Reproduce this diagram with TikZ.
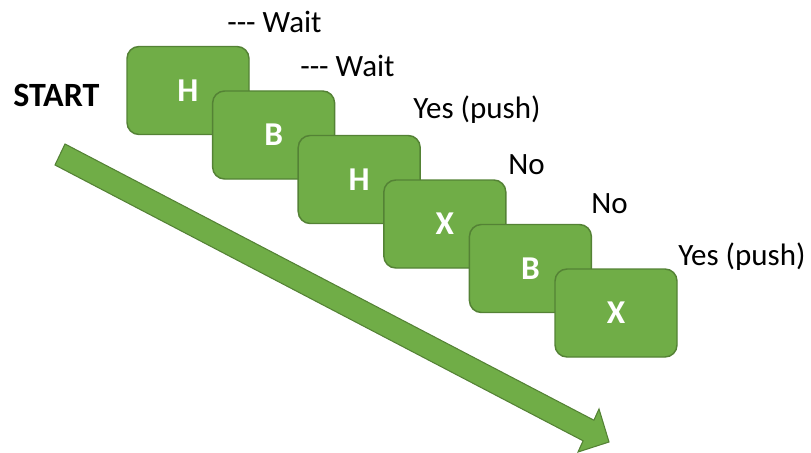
\documentclass[tikz,border=0pt]{standalone}
\usepackage{fontspec}
\setmainfont{Carlito}
\definecolor{tilegreen}{RGB}{112,173,71}
\definecolor{tileedge}{RGB}{84,130,53}
\newcommand{\tripledash}{-\kern0pt-\kern0pt-}
\begin{document}
\begin{tikzpicture}[x=0.75pt,y=-0.75pt,
  tile/.style={draw=tileedge, fill=tilegreen, line width=1.1pt,
    rounded corners=9pt, minimum width=91.5pt, minimum height=66pt,
    inner sep=0pt, text=white, font=\fontsize{25}{30}\selectfont\bfseries},
  lab/.style={anchor=base west, inner sep=0pt,
    font=\fontsize{23.25}{28}\selectfont},
  flow/.style={draw=tileedge, fill=tilegreen, line width=0.8pt}]
\useasboundingbox (0,0) rectangle (811,453);

% direction arrow
\coordinate (tailA) at (65,144);
\coordinate (tailB) at (55,165);
\coordinate (neckA) at (593.9,420.2);
\coordinate (neckB) at (583.1,440.8);
\coordinate (barbA) at (599,409);
\coordinate (barbB) at (578,452);
\coordinate (tip) at (609,442);
\draw[flow] (tailA) -- (neckA) -- (barbA) -- (tip) -- (barbB) -- (neckB) -- (tailB) -- cycle;

\node[anchor=base west, inner sep=0pt, font=\fontsize{25.5}{30}\selectfont\bfseries] (start) at (13,107) {START};

% stacked tiles, each drawn over the previous one
\node[tile] (t1) at (188.0,90.5) {H};
\node[tile] (t2) at (273.6,135.0) {B};
\node[tile] (t3) at (359.2,179.5) {H};
\node[tile] (t4) at (444.8,224.0) {X};
\node[tile] (t5) at (530.4,268.5) {B};
\node[tile] (t6) at (616.0,313.0) {X};

% step labels
\node[lab] (l1) at (227,33) {\tripledash{} Wait};
\node[lab] (l2) at (300,77) {\tripledash{} Wait};
\node[lab] (l3) at (413,118) {Yes (push)};
\node[lab] (l4) at (508,175) {No};
\node[lab] (l5) at (591,213) {No};
\node[lab] (l6) at (678,265) {Yes (push)};
\end{tikzpicture}
\end{document}
